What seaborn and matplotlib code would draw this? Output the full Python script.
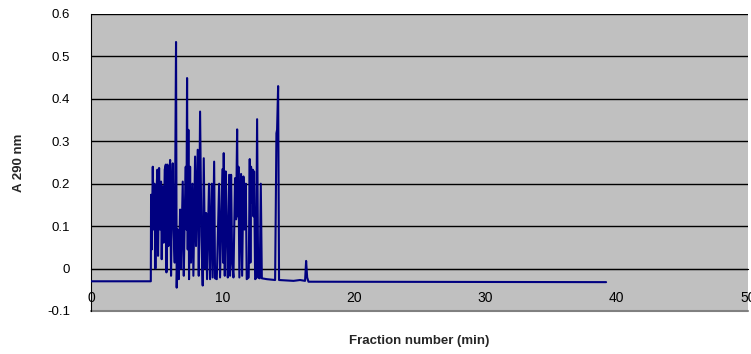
import matplotlib

matplotlib.use("Agg")

import matplotlib.pyplot as plt
import pandas as pd
import seaborn as sns

# A 290 nm trace
fraction_min = [
    0.0, 4.55, 4.57, 4.62, 4.70, 4.77, 4.82, 4.90, 4.97, 5.05, 5.10, 5.18, 5.25,
    5.33, 5.38, 5.46, 5.53, 5.61, 5.69, 5.74, 5.81, 5.89, 5.96, 6.02, 6.09, 6.17,
    6.22, 6.29, 6.37, 6.47, 6.52, 6.60, 6.68, 6.78, 6.85, 6.98, 7.06, 7.13, 7.21,
    7.26, 7.31, 7.36, 7.41, 7.46, 7.54, 7.61, 7.72, 7.79, 7.92, 7.99, 8.12, 8.20,
    8.30, 8.40, 8.50, 8.58, 8.68, 8.76, 8.83, 8.98, 9.06, 9.19, 9.26, 9.37, 9.44,
    9.57, 9.75, 9.82, 10.00, 10.05, 10.10, 10.18, 10.25, 10.33, 10.41, 10.51,
    10.58, 10.66, 10.74, 10.84, 10.96, 11.04, 11.12, 11.17, 11.22, 11.29, 11.42,
    11.50, 11.60, 11.68, 11.78, 11.85, 12.00, 12.08, 12.13, 12.18, 12.23, 12.31,
    12.36, 12.41, 12.49, 12.56, 12.64, 12.72, 12.84, 12.92, 13.00, 13.38, 14.01,
    14.06, 14.11, 14.16, 14.24, 14.31, 15.41, 15.91, 16.29, 16.37, 16.45, 16.55,
    39.2,
]
absorbance = [
    -0.030, -0.030, 0.174, 0.045, 0.240, 0.092, 0.200, 0.000, 0.170, 0.233, 0.030,
    0.237, 0.092, 0.205, 0.022, 0.194, 0.061, 0.233, 0.245, -0.009, 0.245, 0.053,
    0.217, 0.256, -0.017, 0.200, 0.248, 0.092, 0.014, 0.534, -0.045, 0.092, -0.025,
    0.139, 0.000, 0.205, -0.017, 0.123, 0.240, 0.092, 0.449, 0.045, 0.327, -0.025,
    0.240, 0.014, 0.200, -0.017, 0.264, 0.053, 0.280, -0.017, 0.370, 0.077, -0.040,
    0.260, 0.000, 0.131, -0.025, 0.200, -0.025, 0.200, -0.021, 0.252, -0.023,
    -0.025, 0.200, -0.021, 0.234, 0.014, 0.272, -0.017, 0.229, 0.092, -0.021,
    0.221, -0.017, 0.221, 0.014, -0.021, 0.213, 0.116, 0.328, 0.123, 0.240,
    -0.021, 0.223, -0.017, 0.217, 0.092, 0.200, -0.025, -0.021, 0.258, 0.014,
    0.240, 0.155, 0.233, 0.123, 0.229, -0.025, -0.023, 0.352, -0.021, -0.023,
    0.200, -0.023, -0.025, -0.027, 0.139, 0.319, 0.327, 0.430, -0.027, -0.029,
    -0.027, -0.029, 0.018, -0.021, -0.031, -0.032,
]

x_ticks = [0, 10, 20, 30, 40, 50]
y_ticks = [-0.1, 0.0, 0.1, 0.2, 0.3, 0.4, 0.5, 0.6]
y_tick_labels = ["-0.1", "0", "0.1", "0.2", "0.3", "0.4", "0.5", "0.6"]

df = pd.DataFrame({"fraction": fraction_min, "a290": absorbance})

sns.set_style("white")
plt.rcParams["font.family"] = ["Liberation Sans", "DejaVu Sans"]

fig = plt.figure(figsize=(7.51, 3.54), dpi=100)
ax = fig.add_axes([0.1212, 0.1215, 0.8748, 0.839])
ax.set_facecolor("#C0C0C0")

for y in y_ticks[1:]:
    ax.axhline(y, color="black", linewidth=1.0, zorder=1)

sns.lineplot(
    data=df, x="fraction", y="a290", sort=False, estimator=None,
    color="#000080", linewidth=1.5, ax=ax, zorder=3,
)

ax.set_xlim(0, 50)
ax.set_ylim(-0.1, 0.6)
ax.set_xticks(x_ticks)
ax.set_xticklabels([str(t) for t in x_ticks], fontsize=9.5)
ax.set_yticks(y_ticks)
ax.set_yticklabels(y_tick_labels, fontsize=9.5)

# category axis crosses at zero, like the spreadsheet original
ax.spines["bottom"].set_position(("data", 0))
ax.spines["bottom"].set_color("black")
ax.spines["left"].set_color("black")
ax.spines["top"].set_visible(False)
ax.spines["right"].set_visible(False)
ax.axhline(-0.1, color="#808080", linewidth=1.5, clip_on=False, zorder=2)

ax.tick_params(axis="x", direction="out", length=4, width=0.8, pad=12, colors="black")
ax.tick_params(axis="y", direction="out", length=4, width=0.8, pad=11, colors="black")

ax.set_xlabel("Fraction number (min)", fontsize=9.5, fontweight="bold")
ax.set_ylabel("A 290 nm", fontsize=9.5, fontweight="bold")
ax.xaxis.set_label_coords(0.5, -0.08)
ax.yaxis.set_label_coords(-0.1, 0.5)

fig.savefig("out.png", dpi=100)
plt.close(fig)
